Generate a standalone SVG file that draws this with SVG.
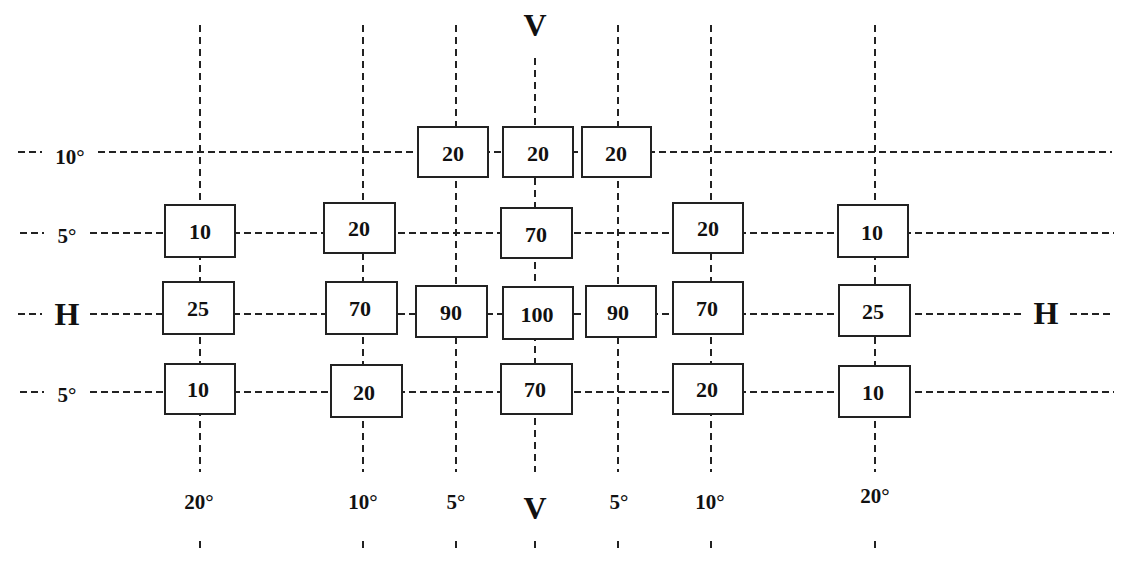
<svg xmlns="http://www.w3.org/2000/svg" width="1128" height="567" viewBox="0 0 1128 567">
<style>
.bg{fill:#fff}
.ln{stroke:#222;stroke-width:2;stroke-dasharray:7 4;fill:none}
.vl{stroke:#222;stroke-width:2;stroke-dasharray:7 5;fill:none}
.box{fill:#fff;stroke:#222;stroke-width:2}
.t{font-family:"Liberation Serif","Times New Roman",serif;font-weight:bold;font-size:22px;fill:#111;text-anchor:middle;dominant-baseline:central}
.big{font-family:"Liberation Serif","Times New Roman",serif;font-weight:bold;font-size:32px;fill:#111;text-anchor:middle;dominant-baseline:central}
.d{font-family:"Liberation Serif","Times New Roman",serif;font-weight:bold;font-size:21px;fill:#111;text-anchor:middle;dominant-baseline:central}
</style>
<rect class="bg" x="0" y="0" width="1128" height="567"/>
<g id="connectors">
<path class="ln" d="M18 152H42M98 152H1112"/>
<path class="ln" d="M20 233H44M90 233H1114"/>
<path class="ln" d="M18 314H42M90 314H1024M1070 314H1110"/>
<path class="ln" d="M20 392H44M90 392H1114"/>
<path class="vl" d="M200 25V472M200 541V553"/>
<path class="vl" d="M363 25V472M363 541V553"/>
<path class="vl" d="M456 25V472M456 541V553"/>
<path class="vl" d="M535 58V472M535 541V553"/>
<path class="vl" d="M618 25V472M618 541V553"/>
<path class="vl" d="M711 25V472M711 541V553"/>
<path class="vl" d="M875 25V472M875 541V553"/>
</g>
<g id="labels">
<text class="big" x="535" y="25">V</text>
<text class="big" x="535" y="508">V</text>
<text class="big" x="67" y="314">H</text>
<text class="big" x="1046" y="313">H</text>
<text class="d" x="70" y="157">10°</text>
<text class="d" x="67" y="236">5°</text>
<text class="d" x="67" y="395">5°</text>
<text class="d" x="199" y="502">20°</text>
<text class="d" x="363" y="502">10°</text>
<text class="d" x="456" y="502">5°</text>
<text class="d" x="619" y="502">5°</text>
<text class="d" x="710" y="502">10°</text>
<text class="d" x="875" y="496">20°</text>
</g>
<g id="n1"><rect class="box" x="418" y="127" width="70" height="50"/><text class="t" x="453" y="153">20</text></g>
<g id="n2"><rect class="box" x="503" y="127" width="70" height="50"/><text class="t" x="538" y="153">20</text></g>
<g id="n3"><rect class="box" x="582" y="127" width="69" height="50"/><text class="t" x="616" y="153">20</text></g>
<g id="n4"><rect class="box" x="165" y="205" width="70" height="52"/><text class="t" x="200" y="231">10</text></g>
<g id="n5"><rect class="box" x="324" y="203" width="71" height="50"/><text class="t" x="359" y="228">20</text></g>
<g id="n6"><rect class="box" x="501" y="208" width="71" height="50"/><text class="t" x="536" y="234">70</text></g>
<g id="n7"><rect class="box" x="673" y="203" width="70" height="50"/><text class="t" x="708" y="228">20</text></g>
<g id="n8"><rect class="box" x="838" y="205" width="70" height="52"/><text class="t" x="872" y="232">10</text></g>
<g id="n9"><rect class="box" x="163" y="282" width="71" height="52"/><text class="t" x="198" y="308">25</text></g>
<g id="n10"><rect class="box" x="326" y="282" width="71" height="52"/><text class="t" x="360" y="308">70</text></g>
<g id="n11"><rect class="box" x="416" y="286" width="71" height="51"/><text class="t" x="451" y="312">90</text></g>
<g id="n12"><rect class="box" x="503" y="287" width="70" height="52"/><text class="t" x="537" y="314">100</text></g>
<g id="n13"><rect class="box" x="586" y="286" width="70" height="51"/><text class="t" x="618" y="312">90</text></g>
<g id="n14"><rect class="box" x="673" y="282" width="70" height="52"/><text class="t" x="707" y="308">70</text></g>
<g id="n15"><rect class="box" x="839" y="285" width="71" height="51"/><text class="t" x="873" y="311">25</text></g>
<g id="n16"><rect class="box" x="165" y="364" width="70" height="50"/><text class="t" x="198" y="389">10</text></g>
<g id="n17"><rect class="box" x="331" y="365" width="71" height="52"/><text class="t" x="364" y="392">20</text></g>
<g id="n18"><rect class="box" x="501" y="364" width="71" height="50"/><text class="t" x="535" y="389">70</text></g>
<g id="n19"><rect class="box" x="673" y="364" width="70" height="50"/><text class="t" x="707" y="389">20</text></g>
<g id="n20"><rect class="box" x="839" y="366" width="71" height="51"/><text class="t" x="873" y="392">10</text></g>
</svg>
